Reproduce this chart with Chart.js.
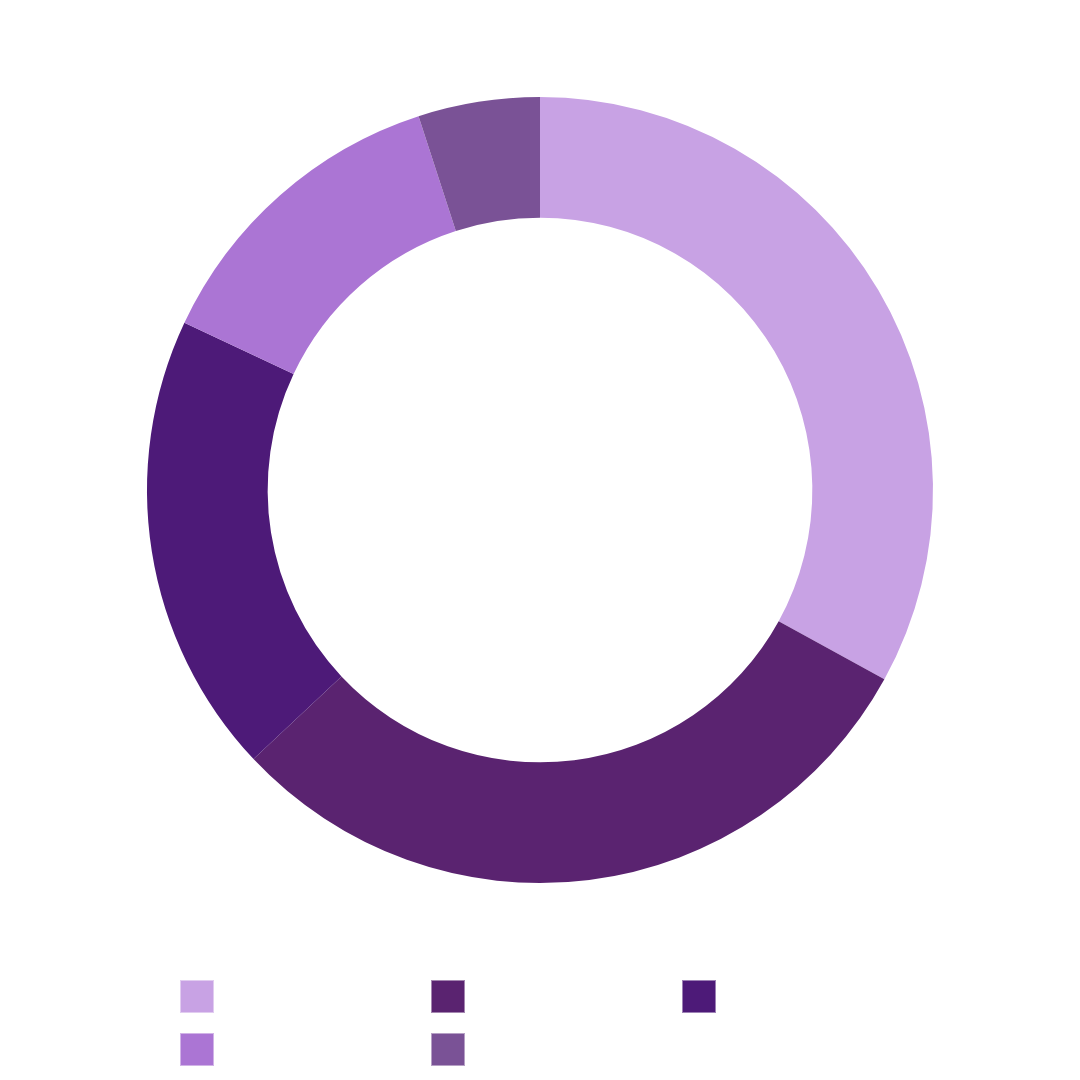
<!DOCTYPE html>
<html>
<head>
<meta charset="utf-8">
<title>Doughnut</title>
<script src="https://cdn.jsdelivr.net/npm/chart.js@4/dist/chart.umd.min.js"></script>
<style>
    html, body { margin: 0; padding: 0; background: #ffffff; }
    #wrap { width: 1080px; height: 1080px; }
</style>
</head>
<body>
<div id="wrap"><canvas id="donutChart" width="1080" height="1080"></canvas></div>
<script>
const categories = ['Segment 1', 'Segment 2', 'Segment 3', 'Segment 4', 'Segment 5'];
const shares = [33, 30, 19, 13, 5];
const sliceColors = ['#c8a2e4', '#5a2370', '#4d1a78', '#ab75d4', '#7a5296'];

// Grid legend under the ring: 3 columns, boxes only (text is white in the original)
const gridLegend = {
    id: 'gridLegend',
    afterDraw(chart) {
        const ctx = chart.ctx;
        const colors = chart.data.datasets[0].backgroundColor;
        ctx.save();
        chart.data.labels.forEach((label, i) => {
            const x = 180 + (i % 3) * 251;
            const y = 980 + Math.floor(i / 3) * 53;
            ctx.fillStyle = colors[i];
            ctx.fillRect(x, y, 34, 33);
            ctx.strokeStyle = 'rgba(255,255,255,0.45)';
            ctx.lineWidth = 1;
            ctx.strokeRect(x + 0.5, y + 0.5, 33, 32);
            ctx.fillStyle = '#ffffff';
            ctx.font = '20px "Noto Sans"';
            ctx.textBaseline = 'middle';
            ctx.fillText(label, x + 46, y + 17);
        });
        ctx.restore();
    }
};

document.addEventListener('DOMContentLoaded', () => {
    new Chart(document.getElementById('donutChart'), {
        type: 'doughnut',
        data: {
            labels: categories,
            datasets: [{
                data: shares,
                backgroundColor: sliceColors,
                borderWidth: 0
            }]
        },
        options: {
            responsive: false,
            animation: false,
            cutout: '69.3%',
            layout: { padding: { top: 97, bottom: 197, left: 0, right: 0 } },
            plugins: {
                legend: { display: false },
                tooltip: { enabled: false }
            }
        },
        plugins: [gridLegend]
    });
});
</script>
</body>
</html>
